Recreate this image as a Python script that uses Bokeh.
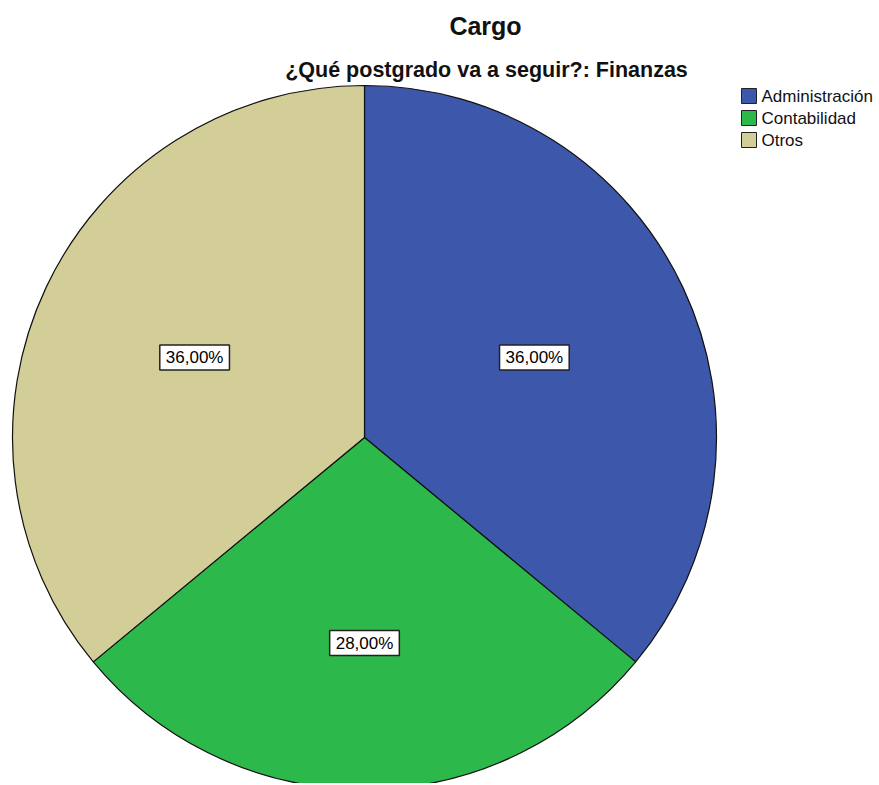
import math
from bokeh.plotting import figure
from bokeh.models import ColumnDataSource, Label
from bokeh.embed import file_html
from bokeh.resources import INLINE
from bokeh.core.properties import value

# ---- data ----
categories = ["Administración", "Contabilidad", "Otros"]
percentages = [36.0, 28.0, 36.0]
colors = ["#3D57AB", "#2DB84B", "#D3CD98"]
title_text = "Cargo"
subtitle_text = "¿Qué postgrado va a seguir?: Finanzas"

# ---- layout ----
W, H = 877, 783
cx, cy, R = 364, H - 437, 352
FONT = "Liberation Sans"

total = sum(percentages)
starts, ends, lx, ly, labels = [], [], [], [], []
cum = 0.0
for v in percentages:
    a0 = math.pi / 2 - 2 * math.pi * cum / total
    cum += v
    a1 = math.pi / 2 - 2 * math.pi * cum / total
    starts.append(a0)
    ends.append(a1)
    half = (a0 - a1) / 2
    mid = (a0 + a1) / 2
    rc = 2 * R * math.sin(half) / (3 * half)
    lx.append(cx + rc * math.cos(mid))
    ly.append(cy + rc * math.sin(mid))
    labels.append(f"{v:.2f}".replace(".", ",") + "%")

src = ColumnDataSource(dict(cat=categories, pct=percentages, color=colors,
                            start=starts, end=ends, lx=lx, ly=ly, label=labels,
                            x=[cx] * len(categories), y=[cy] * len(categories)))

p = figure(width=W, height=H, x_range=(0, W), y_range=(0, H),
           output_backend="svg", toolbar_location=None,
           x_axis_location=None, y_axis_location=None, min_border=0)
p.grid.visible = False
p.outline_line_color = None
p.background_fill_color = "white"
p.border_fill_color = "white"

p.wedge(x="x", y="y", radius=R, start_angle="start", end_angle="end",
        direction="clock", fill_color="color", line_color="#111111",
        line_width=1.2, source=src)

p.text(x="lx", y="ly", text="label", source=src,
       text_align="center", text_baseline="middle",
       text_font=value(FONT), text_font_size="17px",
       text_color="black",
       background_fill_color="white",
       border_line_color="#222222", border_line_width=1.5,
       padding=(6, 3))

# legend (manual)
leg_x, leg_top, leg_step = 748.5, H - 95.5, 22
leg_src = ColumnDataSource(dict(
    x=[leg_x] * len(categories),
    y=[leg_top - i * leg_step for i in range(len(categories))],
    tx=[leg_x + 12.5] * len(categories),
    color=colors, cat=categories))
p.rect(x="x", y="y", width=15, height=15, fill_color="color",
       line_color="#222222", line_width=1, source=leg_src)
p.text(x="tx", y="y", text="cat", text_font=value(FONT),
       text_font_size="17px", text_baseline="middle", text_align="left",
       text_color="#111111", source=leg_src)

p.add_layout(Label(x=485, y=H - 25, text=title_text, text_align="center",
                   text_baseline="alphabetic", text_font=FONT,
                   text_font_size="25px", text_font_style="bold",
                   text_color="#111111"))
p.add_layout(Label(x=486, y=H - 69, text=subtitle_text, text_align="center",
                   text_baseline="alphabetic", text_font=FONT,
                   text_font_size="21.5px", text_font_style="bold",
                   text_color="#111111"))

open("out.html", "w").write(file_html(p, INLINE))
